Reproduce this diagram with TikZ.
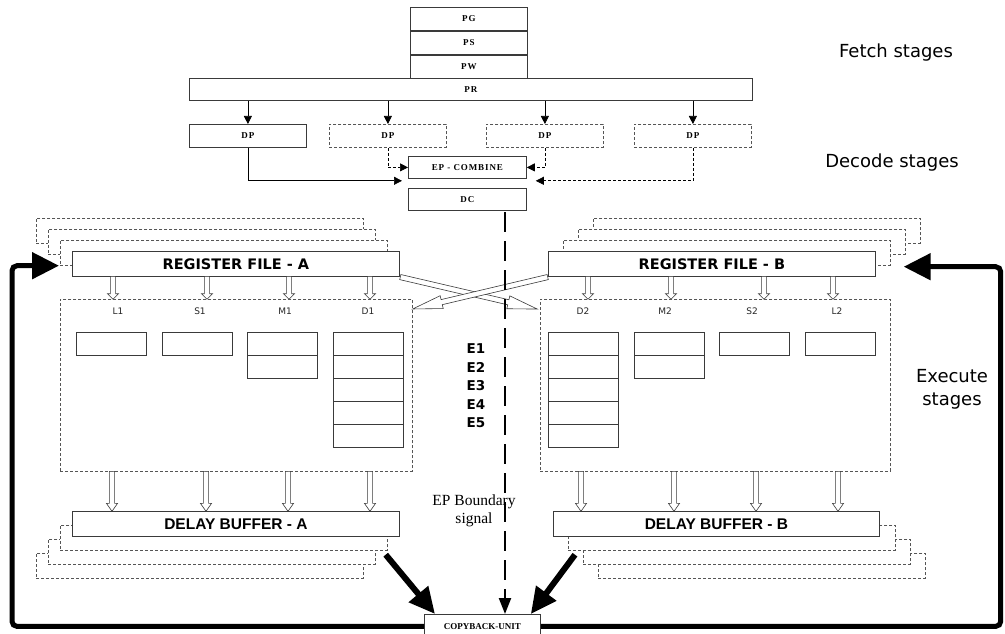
\documentclass[tikz,border=0pt]{standalone}
\usepackage{fontspec}
\setmainfont{Liberation Serif}
\newfontfamily\sanslabel{DejaVu Sans}
\newfontfamily\bufferfont{Liberation Sans}
\newfontfamily\stagefont[LetterSpace=10]{Liberation Serif}
\usetikzlibrary{arrows.meta,positioning,calc,shapes.arrows}
\definecolor{edge}{HTML}{3A3A3A}
\definecolor{ghost}{HTML}{555555}
\tikzset{
  stagebox/.style={draw=edge, fill=white, line width=0.8pt, minimum width=117pt,
                   minimum height=23pt, inner sep=0pt,
                   font=\stagefont\bfseries\fontsize{9}{10}\selectfont},
  dpbox/.style={stagebox},
  ghostbox/.style={stagebox, draw=ghost, dash pattern=on 3pt off 2pt},
  regbox/.style={draw=edge, fill=white, line width=0.8pt, minimum width=327pt,
                 minimum height=25pt, inner sep=0pt,
                 font=\sanslabel\bfseries\fontsize{14.5}{16}\selectfont},
  bufbox/.style={regbox, font=\bufferfont\bfseries\fontsize{15.5}{17}\selectfont},
  shadow/.style={draw=ghost, fill=white, line width=0.7pt, dash pattern=on 3pt off 2pt,
                 minimum width=327pt, minimum height=25pt, inner sep=0pt},
  execbox/.style={draw=ghost, line width=0.7pt, dash pattern=on 3pt off 2pt, inner sep=0pt},
  unitbox/.style={draw=edge, line width=0.8pt, minimum width=70pt, minimum height=23pt, inner sep=0pt},
  unitlbl/.style={font=\sanslabel\fontsize{9}{10}\selectfont, text=black!85},
  elbl/.style={font=\sanslabel\bfseries\fontsize{13.5}{15}\selectfont},
  stagelbl/.style={font=\sanslabel\fontsize{18}{23}\selectfont, align=center},
  cbbox/.style={draw=edge, fill=white, line width=0.8pt, minimum width=116pt,
                minimum height=24pt, inner sep=0pt, font=\bfseries\fontsize{9}{10}\selectfont},
  feedarrow/.style={single arrow, draw=edge, fill=white, line width=0.6pt, inner xsep=0pt,
                    inner ysep=2.3pt, single arrow head extend=3pt, single arrow tip angle=90},
  crossarrow/.style={feedarrow, single arrow head extend=4pt, single arrow tip angle=25},
  flow/.style={draw=black, line width=0.7pt, -{Triangle[length=8pt,width=8pt]}},
  ghostflow/.style={flow, dash pattern=on 3pt off 2pt},
  fatline/.style={draw=black, line width=5pt, rounded corners=5pt, -{Triangle[length=27pt,width=26pt]}},
  fatarrow/.style={draw=black, line width=6pt, -{Triangle[length=26pt,width=24pt]}},
  boundary/.style={draw=black, line width=2.2pt, dash pattern=on 20pt off 9pt,
                   -{Triangle[length=16pt,width=12pt]}}
}
\begin{document}
\begin{tikzpicture}[x=1pt,y=-1pt,>=Latex]
  \useasboundingbox (0,0) rectangle (1005,634);
  \clip (0,0) rectangle (1005,634);
  \fill[white] (0,0) rectangle (1005,634);

  % fetch stages
  \node[stagebox, anchor=north west] (pg) at (410,7) {PG};
  \node[stagebox, below=0pt of pg] (ps) {PS};
  \node[stagebox, below=0pt of ps, minimum height=24pt] (pw) {PW};
  \node[stagebox, anchor=north west, minimum width=563pt, minimum height=22pt] (pr) at (189,78) {PR};
  \node[stagelbl] (fetchlbl) at (896,53) {Fetch stages};

  % decode stages
  \foreach \i/\x/\sty in {1/189/dpbox,2/329/ghostbox,3/486/ghostbox,4/634/ghostbox} {
    \node[\sty, anchor=north west] (dp\i) at (\x,124) {DP};
    \draw[flow] (pr.south -| dp\i.north) -- (dp\i.north);
  }
  \node[stagebox, anchor=north west, minimum width=118pt, minimum height=22pt] (epc) at (408,156) {EP - COMBINE};
  \node[stagebox, below=9pt of epc, minimum width=118pt, minimum height=22pt] (dc) {DC};
  \draw[flow] (dp1.south) |- ($(epc.south west)+(-6,2)$);
  \draw[ghostflow] (dp2.south) |- (epc.west);
  \draw[ghostflow] (dp3.south) |- (epc.east);
  \draw[ghostflow] (dp4.south) |- ($(epc.south east)+(9,2)$);
  \node[stagelbl] (decodelbl) at (892,163) {Decode stages};

  % register files with their shadow copies
  \foreach \k in {3,2,1} {
    \node[shadow, anchor=north west] (regAsh\k) at ({72-12*\k},{251-11*\k}) {};
    \node[shadow, anchor=north west] (regBsh\k) at ({548+15*\k},{251-11*\k}) {};
  }
  \node[regbox, anchor=north west] (regA) at (72,251) {REGISTER FILE - A};
  \node[regbox, anchor=north west] (regB) at (548,251) {REGISTER FILE - B};

  % execute units
  \node[execbox, anchor=north west, minimum width=352pt, minimum height=172pt] (exA) at (60,299) {};
  \node[execbox, anchor=north west, minimum width=350pt, minimum height=172pt] (exB) at (540,299) {};
  \foreach \name/\x/\lx/\rows in {L1/76/118/1,S1/162/200/1,M1/247/285/2,D1/333/368/5,
                                  D2/548/583/5,M2/634/665/2,S2/719/752/1,L2/805/837/1} {
    \node[unitlbl] (lbl\name) at (\lx,311) {\name};
    \foreach \r in {1,...,\rows}
      \node[unitbox, anchor=north west] (u\name\r) at (\x,{332+23*(\r-1)}) {};
  }
  \foreach \i in {1,...,5}
    \node[elbl] (e\i) at (476,{349+18.5*(\i-1)}) {E\i};
  \node[stagelbl] (execlbl) at (952,389) {Execute\\stages};

  % hollow transfer arrows
  \foreach \x in {113,207,289,370,588,671,764,833}
    \node[feedarrow, anchor=tail, rotate=-90, minimum height=23pt] at (\x,276) {};
  \foreach \x in {112,206,288,370,581,674,756,838}
    \node[feedarrow, anchor=tail, rotate=-90, minimum height=40pt, single arrow tip angle=70] at (\x,471) {};
  \node[crossarrow, anchor=tail, rotate=-13.15, minimum height=140.7pt] (xAB) at (400,277) {};
  \node[crossarrow, anchor=tail, rotate=193.3, minimum height=138.7pt] (xBA) at (548,277) {};

  % delay buffers with their shadow copies
  \foreach \k in {3,2,1} {
    \node[shadow, anchor=north west] (dlyAsh\k) at ({72-12*\k},{511+14*\k}) {};
    \node[shadow, anchor=north west] (dlyBsh\k) at ({553+15*\k},{511+14*\k}) {};
  }
  \node[bufbox, anchor=north west] (dlyA) at (72,511) {DELAY BUFFER - A};
  \node[bufbox, anchor=north west, minimum width=326pt] (dlyB) at (553,511) {DELAY BUFFER - B};

  % copy-back and feedback
  \node[align=center, font=\fontsize{15.5}{18.5}\selectfont] (bndlbl) at (474,511) {EP Boundary\\signal};
  \node[cbbox, anchor=north west] (cb) at (424,614) {COPYBACK-UNIT};
  \coordinate (bndtop) at (505,212);
  \draw[boundary] (bndtop) -- (bndtop |- cb.north);
  \draw[fatarrow] ($(dlyAsh1.south east)+(-2,4)$) -- ($(cb.north west)+(11,0)$);
  \draw[fatarrow] ($(dlyBsh1.south west)+(7,4)$) -- ($(cb.north east)+(-10,0)$);
  \coordinate (fbL) at ($(regAsh1.south west)+(-1,0)$);
  \coordinate (fbR) at ($(regBsh1.south east)+(13,1)$);
  \draw[fatline] (cb.west) -| ([xshift=-47pt]fbL) -- (fbL);
  \draw[fatline] (cb.east) -| ([xshift=97pt]fbR) -- (fbR);
\end{tikzpicture}
\end{document}
